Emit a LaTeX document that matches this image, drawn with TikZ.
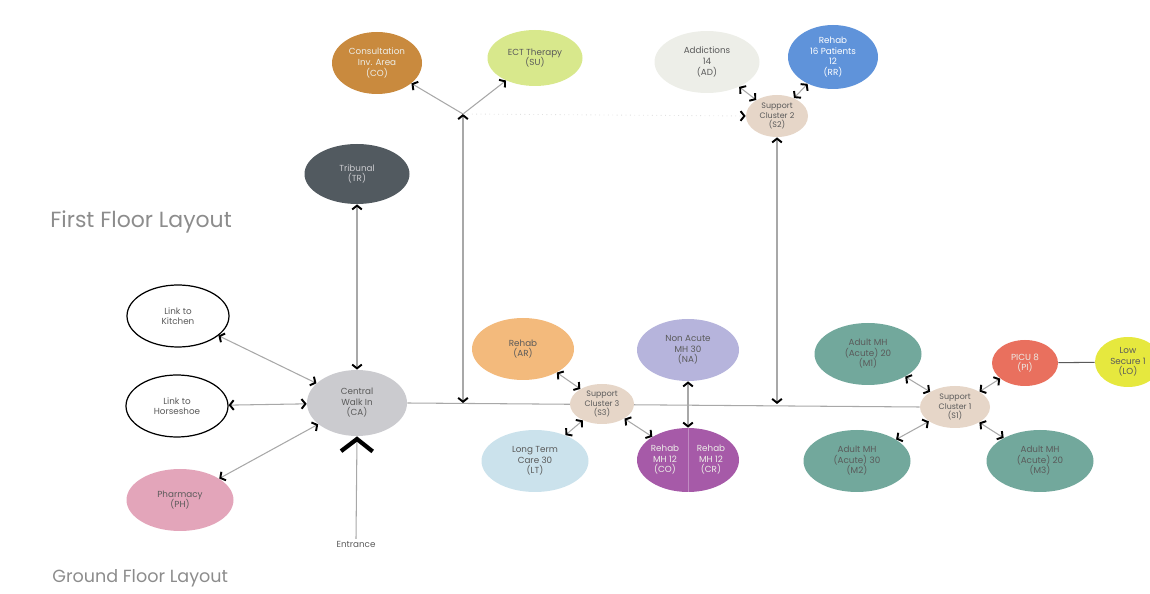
\documentclass[tikz,border=0pt]{standalone}
\usepackage{fontspec}
\setmainfont{Poppins}
\usetikzlibrary{shapes.geometric,arrows.meta,backgrounds}
\definecolor{linegrey}{HTML}{A8A8A8}
\definecolor{headgrey}{HTML}{8C8C8C}
\definecolor{cCO}{HTML}{C98A3E}
\definecolor{cSU}{HTML}{D8E88C}
\definecolor{cAD}{HTML}{EDEEE8}
\definecolor{cRR}{HTML}{5F93DA}
\definecolor{cSC}{HTML}{E6D6C8}
\definecolor{cTR}{HTML}{525A60}
\definecolor{cCA}{HTML}{CBCBCF}
\definecolor{cPH}{HTML}{E3A5BA}
\definecolor{cAR}{HTML}{F3BA7C}
\definecolor{cNA}{HTML}{B6B4DC}
\definecolor{cLT}{HTML}{CBE2EC}
\definecolor{cCR}{HTML}{A65AA8}
\definecolor{cM}{HTML}{72A89C}
\definecolor{cPI}{HTML}{E9705E}
\definecolor{cLO}{HTML}{E6E83E}
\definecolor{darktext}{HTML}{5A5A5A}
\tikzset{
  room/.style={ellipse, inner sep=0pt, align=center, font=\fontsize{5}{6}\selectfont, text=darktext},
  sz/.style 2 args={minimum width=#1*0.02cm, minimum height=#2*0.02cm},
  tipb/.tip={Straight Barb[color=black,length=2.2pt,width=5.5pt,line width=1.1pt]},
  bi/.style={draw=linegrey, line width=0.6pt, tipb-tipb},
  one/.style={draw=linegrey, line width=0.6pt, -tipb},
  heading/.style={font=\fontsize{12.5}{14}\selectfont, text=headgrey, anchor=west, inner sep=0pt}
}
\begin{document}
\begin{tikzpicture}[x=0.02cm, y=-0.02cm]
\useasboundingbox (0,0) rectangle (1150,594);
% headings
\node[heading] (h1) at (50,222) {First Floor Layout};
\node[heading, font=\fontsize{10}{12}\selectfont] (h2) at (52,578) {Ground Floor Layout};
% first floor
\node[room, sz={90}{62}, fill=cCO, text=cAD] (CO) at (377,63) {Consultation\\ Inv. Area\\ (CO)};
\node[room, sz={95}{56}, fill=cSU] (SU) at (535,58) {ECT Therapy\\ (SU)};
\node[room, sz={105}{62}, fill=cAD] (AD) at (707,62) {Addictions\\ 14\\ (AD)};
\node[room, sz={90}{64}, fill=cRR, text=white] (RR) at (833,57) {Rehab\\ 16 Patients\\ 12\\ (RR)};
\node[room, sz={62}{42}, fill=cSC, font=\fontsize{4.5}{5.2}\selectfont] (S2) at (777,116) {Support\\ Cluster 2\\ (S2)};
% ground floor
\node[room, sz={105}{60}, fill=cTR, text=cCA] (TR) at (357,174) {Tribunal\\ (TR)};
\node[room, sz={102}{62}, draw=black, line width=0.7pt, fill=white] (KI) at (178,316) {Link to\\ Kitchen};
\node[room, sz={102}{62}, draw=black, line width=0.7pt, fill=white] (HS) at (177,406) {Link to\\ Horseshoe};
\node[room, sz={107}{62}, fill=cPH] (PH) at (180,500) {Pharmacy\\ (PH)};
\node[room, sz={100}{66}, fill=cCA] (CA) at (357,403) {Central\\ Walk In\\ (CA)};
\node[font=\fontsize{5}{6}\selectfont, text=darktext, inner sep=1pt] (EN) at (356,544) {Entrance};
\node[room, sz={102}{62}, fill=cAR] (AR) at (523,349) {Rehab\\ (AR)};
\node[room, sz={102}{62}, fill=cNA] (NA) at (688,350) {Non Acute\\ MH 30\\ (NA)};
\node[room, sz={64}{40}, fill=cSC, font=\fontsize{4.5}{5.2}\selectfont] (S3) at (602,404) {Support\\ Cluster 3\\ (S3)};
\node[room, sz={107}{62}, fill=cLT] (LT) at (535,461) {Long Term\\ Care 30\\ (LT)};
\node[room, sz={102}{64}, fill=cCR] (CR) at (688,460) {};
\node[font=\fontsize{5}{6}\selectfont, text=cAD, align=center, inner sep=0pt] (CRa) at (665,460) {Rehab\\ MH 12\\ (CO)};
\node[font=\fontsize{5}{6}\selectfont, text=cAD, align=center, inner sep=0pt] (CRb) at (711,460) {Rehab\\ MH 12\\ (CR)};
\draw[cCR!70!white, line width=0.5pt] (CR.north) -- (CR.south);
\node[room, sz={107}{62}, fill=cM] (M1) at (868,354) {Adult MH\\ (Acute) 20\\ (M1)};
\node[room, sz={70}{42}, fill=cSC, font=\fontsize{4.5}{5.2}\selectfont] (S1) at (955,407) {Support\\ Cluster 1\\ (S1)};
\node[room, sz={66}{46}, fill=cPI, text=cAD] (PI) at (1025,363) {PICU 8\\ (PI)};
\node[room, sz={66}{50}, fill=cLO] (LO) at (1128,362) {Low\\ Secure 1\\ (LO)};
\node[room, sz={107}{62}, fill=cM] (M2) at (857,461) {Adult MH\\ (Acute) 30\\ (M2)};
\node[room, sz={107}{62}, fill=cM] (M3) at (1040,461) {Adult MH\\ (Acute) 20\\ (M3)};
% junction points
\coordinate (J1) at (463,114);
\coordinate (C1) at (463,403);
\coordinate (C2) at (777,404);
\begin{scope}[on background layer]
\draw[draw=linegrey, line width=0.6pt] (CA.east) -- (S1.west);
\end{scope}
% connectors
\draw[one] (J1) -- (CO);
\draw[one] (J1) -- (SU);
\draw[bi] (J1) -- (C1);
\draw[draw=linegrey!35, line width=0.5pt, dotted, -tipb] (J1) -- (S2.west);
\draw[bi] (S2) -- (AD);
\draw[bi] (S2) -- (RR);
\draw[bi] (S2.south) -- (C2);
\draw[bi] (TR) -- (CA);
\draw[bi] (CA) -- (KI);
\draw[bi] (CA) -- (HS);
\draw[bi] (CA) -- (PH);
\draw[draw=linegrey, line width=0.6pt, -{Straight Barb[color=black,length=7pt,width=18pt,line width=2.4pt]}] (EN.north) -- (CA.south);
\draw[bi] (S3) -- (AR);
\draw[bi] (S3) -- (LT);
\draw[bi] (S3) -- (CR);
\draw[bi] (NA) -- (CR);
\draw[bi] (S1) -- (M1);
\draw[bi] (S1) -- (PI);
\draw[bi] (S1) -- (M2);
\draw[bi] (S1) -- (M3);
\draw[draw=darktext, line width=0.6pt] (PI) -- (LO);
\end{tikzpicture}
\end{document}
